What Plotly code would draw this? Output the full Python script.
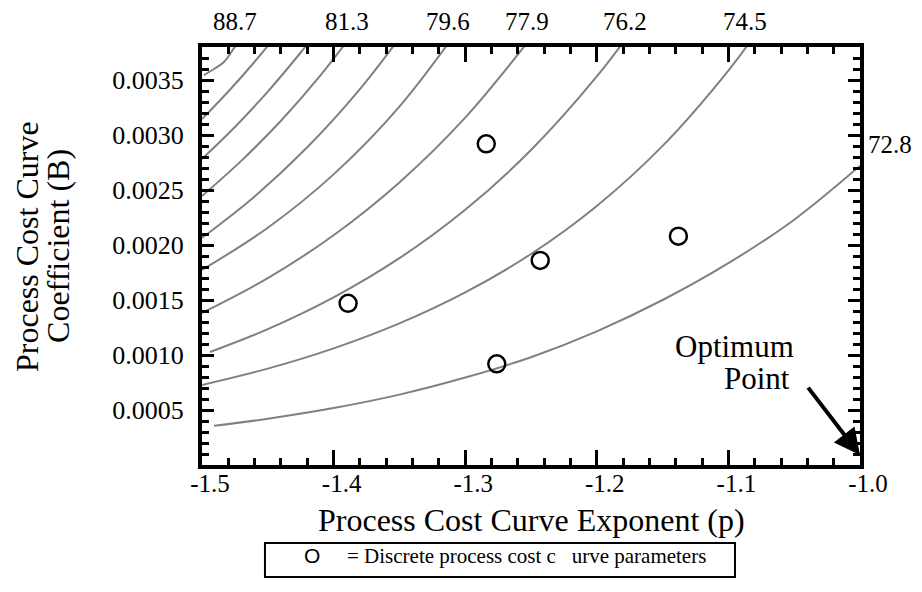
import plotly.graph_objects as go

# ---------------- data ----------------
# contour curves of the process cost surface (p = exponent, B = coefficient)
c1_p = [-1.4985, -1.4909, -1.4833, -1.4757, -1.4735]
c1_B = [0.003545, 0.003600, 0.003664, 0.003790, 0.003820]
c2_p = [-1.50, -1.48, -1.46, -1.44]
c2_B = [0.003145, 0.003395, 0.003666, 0.003958]
c3_p = [-1.500, -1.475, -1.450, -1.425, -1.410]
c3_B = [0.002782, 0.003073, 0.003395, 0.003750, 0.003980]
c4_p = [-1.50, -1.47, -1.44, -1.41, -1.38]
c4_B = [0.002445, 0.002767, 0.003130, 0.003542, 0.004008]
c5_p = [-1.50, -1.46, -1.42, -1.38, -1.34]
c5_B = [0.002064, 0.002441, 0.002888, 0.003417, 0.004042]
c6_p = [-1.50, -1.45, -1.40, -1.35, -1.30]
c6_B = [0.001773, 0.002157, 0.002642, 0.003258, 0.004046]
c7_p = [-1.50, -1.45, -1.40, -1.35, -1.30, -1.25]
c7_B = [0.001382, 0.001699, 0.002089, 0.002569, 0.003158, 0.003883]
c8_p = [-1.4939, -1.45, -1.40, -1.35, -1.30, -1.25, -1.20, -1.17]
c8_B = [0.001027, 0.001235, 0.001524, 0.001880, 0.002320, 0.002863, 0.003532, 0.004006]
c9_p = [-1.50, -1.45, -1.40, -1.35, -1.30, -1.25, -1.20, -1.15, -1.10, -1.08]
c9_B = [0.000727, 0.000876, 0.001060, 0.001287, 0.001569, 0.001918, 0.002355, 0.002901, 0.003586, 0.003908]
c10_p = [-1.4909, -1.45, -1.40, -1.35, -1.30, -1.25, -1.20, -1.15, -1.10, -1.05, -1.00]
c10_B = [0.000356, 0.000421, 0.000518, 0.000640, 0.000795, 0.000980, 0.001215, 0.001500, 0.001835, 0.002230, 0.002720]

# discrete process cost curve parameters
disc_p = [-1.284, -1.389, -1.243, -1.138, -1.276]
disc_B = [0.00292, 0.00147, 0.00186, 0.00208, 0.00092]

# contour level labels
top_labels = ["88.7", "81.3", "79.6", "77.9", "76.2", "74.5"]
top_label_p = [-1.4749, -1.3898, -1.3131, -1.2530, -1.1786, -1.0874]
right_label = "72.8"
right_label_B = 0.00291

# axis ticks
x_tickvals = [-1.5, -1.4, -1.3, -1.2, -1.1, -1.0]
x_ticktext = ["-1.5", "-1.4", "-1.3", "-1.2", "-1.1", "-1.0"]
y_tickvals = [0.0005, 0.0010, 0.0015, 0.0020, 0.0025, 0.0030, 0.0035]
y_ticktext = ["0.0005", "0.0010", "0.0015", "0.0020", "0.0025", "0.0030", "0.0035"]

optimum_p = -1.0
optimum_B = 0.00009

# ---------------- figure ----------------
SERIF = "Liberation Serif"
fig = go.Figure()

curves = [(c1_p, c1_B), (c2_p, c2_B), (c3_p, c3_B), (c4_p, c4_B), (c5_p, c5_B),
          (c6_p, c6_B), (c7_p, c7_B), (c8_p, c8_B), (c9_p, c9_B), (c10_p, c10_B)]
for cp, cb in curves:
    fig.add_trace(go.Scatter(x=cp, y=cb, mode="lines",
                             line=dict(color="#808080", width=2, shape="spline", smoothing=1.0),
                             showlegend=False, hoverinfo="skip"))

fig.add_trace(go.Scatter(x=disc_p, y=disc_B, mode="markers",
                         marker=dict(symbol="circle-open", size=17, color="black",
                                     line=dict(width=2.5, color="black")),
                         showlegend=False))

axis_common = dict(showline=True, linewidth=4, linecolor="black", mirror="ticks",
                   ticks="inside", tickcolor="black", tickwidth=2.5,
                   showgrid=False, zeroline=False)

fig.update_xaxes(range=[-1.5, -1.0], tickmode="array", tickvals=x_tickvals, ticktext=x_ticktext,
                 ticklen=15, tickfont=dict(family=SERIF, size=25, color="black"),
                 ticklabelshift=8, ticklabelstandoff=-7,
                 minor=dict(ticks="inside", tick0=-1.5, dtick=0.02, ticklen=7,
                            tickwidth=2.5, tickcolor="black", showgrid=False),
                 **axis_common)
fig.update_yaxes(range=[0, 0.0038], tickmode="array", tickvals=y_tickvals, ticktext=y_ticktext,
                 ticklen=12, tickfont=dict(family=SERIF, size=26, color="black"),
                 ticklabelstandoff=9,
                 minor=dict(ticks="inside", tick0=0, dtick=0.0001, ticklen=7,
                            tickwidth=2.5, tickcolor="black", showgrid=False),
                 **axis_common)

ann = []
for t, xp in zip(top_labels, top_label_p):
    ann.append(dict(x=xp, y=1.062, xref="x", yref="paper", text=t, showarrow=False,
                    font=dict(family=SERIF, size=25, color="black"),
                    xanchor="center", yanchor="middle"))
ann.append(dict(x=1.046, y=right_label_B, xref="paper", yref="y", text=right_label,
                showarrow=False, font=dict(family=SERIF, size=25, color="black"),
                xanchor="center", yanchor="middle"))
# optimum point label and arrow
ann.append(dict(x=-1.0957, y=0.001080, xref="x", yref="y", text="Optimum", showarrow=False,
                font=dict(family=SERIF, size=31, color="black"), xanchor="center", yanchor="middle"))
ann.append(dict(x=-1.0783, y=0.000785, xref="x", yref="y", text="Point", showarrow=False,
                font=dict(family=SERIF, size=31, color="black"), xanchor="center", yanchor="middle"))
ann.append(dict(x=optimum_p, y=optimum_B, xref="x", yref="y", text="", showarrow=True,
                ax=-53, ay=-69, arrowhead=2, arrowsize=1.3, arrowwidth=4,
                arrowcolor="black", standoff=0))
# axis titles
ann.append(dict(x=0.5, y=-0.131, xref="paper", yref="paper",
                text="Process Cost Curve Exponent (p)", showarrow=False,
                font=dict(family=SERIF, size=32, color="black"), xanchor="center", yanchor="middle"))
ann.append(dict(x=-0.265, y=0.523, xref="paper", yref="paper", text="Process Cost Curve",
                showarrow=False, textangle=-90,
                font=dict(family=SERIF, size=32, color="black"), xanchor="center", yanchor="middle"))
ann.append(dict(x=-0.218, y=0.523, xref="paper", yref="paper", text="Coefficient (B)",
                showarrow=False, textangle=-90,
                font=dict(family=SERIF, size=32, color="black"), xanchor="center", yanchor="middle"))
# legend box content
ann.append(dict(x=0.1672, y=-0.2177, xref="paper", yref="paper", text="O", showarrow=False,
                font=dict(family="Liberation Sans", size=21, color="black"),
                xanchor="center", yanchor="middle"))
ann.append(dict(x=0.2180, y=-0.2177, xref="paper", yref="paper",
                text="= Discrete process cost c\u00a0\u00a0\u00a0urve parameters", showarrow=False,
                font=dict(family=SERIF, size=21, color="black"),
                xanchor="left", yanchor="middle"))

shapes = [dict(type="rect", xref="paper", yref="paper", x0=0.0957, x1=0.81,
               y0=-0.268, y1=-0.1866, line=dict(color="black", width=2))]

# the page body adds an 8 px margin, so the figure is sized to fit the 922x592 window
fig.update_layout(width=914, height=576, autosize=False,
                  margin=dict(l=194, r=62, t=39, b=119, pad=0),
                  paper_bgcolor="white", plot_bgcolor="white",
                  annotations=ann, shapes=shapes, showlegend=False)

fig.write_html("out.html")
